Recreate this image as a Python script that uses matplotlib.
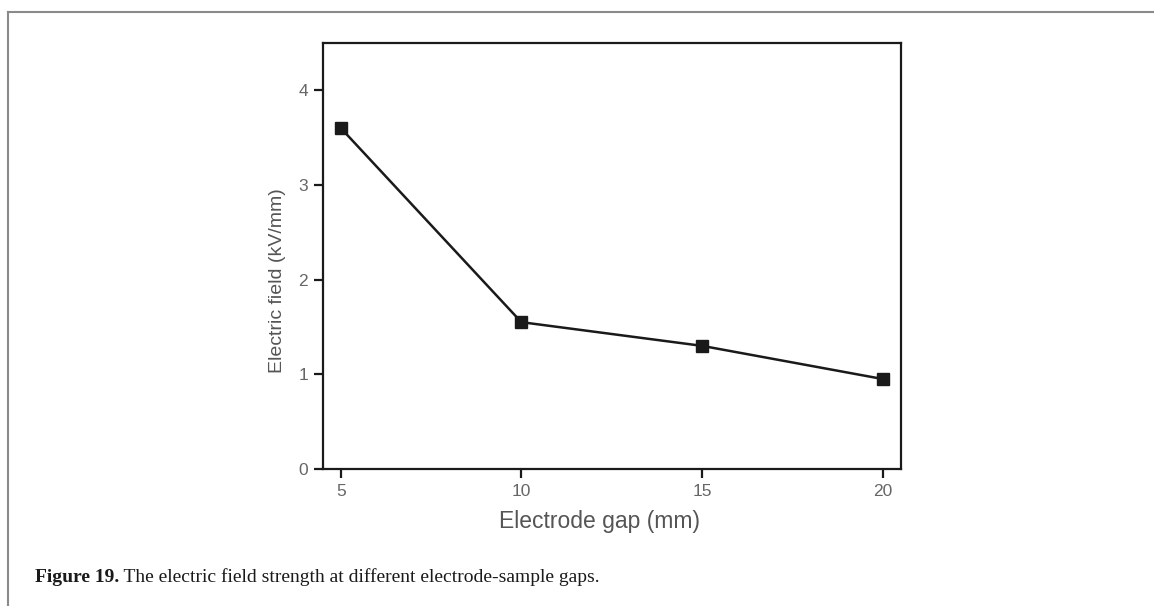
import matplotlib
matplotlib.use('Agg')
import matplotlib.pyplot as plt
from matplotlib.lines import Line2D

# electrode gap (mm) vs electric field (kV/mm)
gap_mm = [5, 10, 15, 20]
field_kv_mm = [3.6, 1.55, 1.3, 0.95]
x_ticks = [5, 10, 15, 20]
y_ticks = [0, 1, 2, 3, 4]

caption_bold = 'Figure 19.'
caption_text = ' The electric field strength at different electrode-sample gaps.'

plt.rcParams['font.family'] = ['Liberation Sans', 'DejaVu Sans']

fig = plt.figure(figsize=(11.54, 6.06), dpi=100)
ax = fig.add_axes([0.2796, 0.2261, 0.5009, 0.7034])

ax.plot(gap_mm, field_kv_mm, color='#1a1a1a', lw=1.8,
        marker='s', markersize=9, markerfacecolor='#1a1a1a',
        markeredgecolor='#1a1a1a')

ax.set_xlim(4.5, 20.5)
ax.set_ylim(0, 4.5)
ax.set_xticks(x_ticks)
ax.set_yticks(y_ticks)
for s in ax.spines.values():
    s.set_linewidth(1.6)
    s.set_color('#1a1a1a')
ax.tick_params(direction='out', length=6.5, width=1.6, color='#1a1a1a',
               labelsize=12.5, labelcolor='#666666', pad=4)

ax.set_xlabel('Electrode gap (mm)', fontsize=16.5, color='#555555')
ax.set_ylabel('Electric field (kV/mm)', fontsize=14, color='#555555')
# label placement (pixels -> axes fraction)
ax.xaxis.set_label_coords((600 - 322.7) / 578, (469 - 510) / 426.3)
ax.yaxis.set_label_coords((286 - 322.7) / 578, (469 - 281) / 426.3)

# page frame (top and left rules)
fig.add_artist(Line2D([8/1154, 8/1154], [0, 1 - 12/606], transform=fig.transFigure,
                      color='#8a8a8a', lw=1.5))
fig.add_artist(Line2D([8/1154, 1], [1 - 12/606, 1 - 12/606], transform=fig.transFigure,
                      color='#8a8a8a', lw=1.5))

# caption
t1 = fig.text(35/1154, 1 - 577/606, caption_bold, family='Liberation Serif',
              fontweight='bold', fontsize=14, va='center', color='#1a1a1a')
fig.canvas.draw()
bb = t1.get_window_extent()
fig.text(bb.x1 / 1154, 1 - 577/606, caption_text, family='Liberation Serif',
         fontsize=14, va='center', color='#1a1a1a')

fig.savefig('out.png', dpi=100)
